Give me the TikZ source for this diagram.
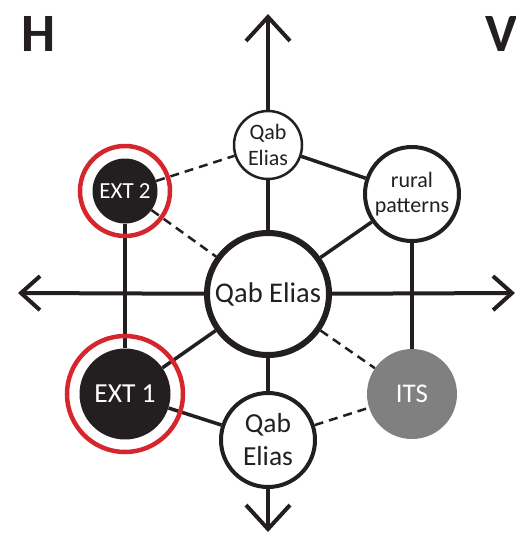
\documentclass[tikz,border=0pt]{standalone}
\usepackage{fontspec}
\setmainfont{Carlito}
\usetikzlibrary{arrows.meta,backgrounds}
\definecolor{ringred}{RGB}{212,38,44}
\definecolor{itsgray}{RGB}{128,128,128}
\definecolor{ink}{RGB}{35,31,32}
\begin{document}
\begin{tikzpicture}[x=1pt,y=-1pt,
  axisline/.style={line width=4pt, draw=ink},
  barbv/.style={-{Straight Barb[length=24pt,width=44pt]}},
  barbh/.style={-{Straight Barb[length=19pt,width=34pt]}},
  solidline/.style={line width=3.5pt, draw=ink},
  dashline/.style={line width=2.5pt, draw=ink, dash pattern=on 9pt off 6pt},
  whitenode/.style={circle, draw=ink, fill=white, inner sep=0pt, align=center, text=ink},
  blacknode/.style={circle, fill=ink, inner sep=0pt, text=white},
  ringnode/.style={circle, draw=ringred, inner sep=0pt, line width=4.5pt}
]
\useasboundingbox (0,0) rectangle (516,536);

% letters
\node[font=\bfseries\fontsize{54}{54}\selectfont, text=ink] (H) at (39,34) {H};
\node[font=\bfseries\fontsize{54}{54}\selectfont, text=ink] (V) at (501,34) {V};

% axis end points
\coordinate (up) at (268,14);
\coordinate (down) at (268,532);
\coordinate (left) at (18,293);
\coordinate (right) at (515,293);

% nodes
\node[whitenode, line width=6pt, minimum size=122pt, font=\fontsize{28.5}{32}\selectfont] (C) at (268,294) {Qab Elias};
\node[whitenode, line width=2.5pt, minimum size=68pt, font=\fontsize{22}{26.5}\selectfont] (TQ) at (268,145) {Qab\\Elias};
\node[whitenode, line width=4pt, minimum size=94pt, font=\fontsize{22}{25}\selectfont] (R) at (412,194) {rural\\patterns};
\node[whitenode, line width=4pt, minimum size=94pt, font=\fontsize{27.5}{33}\selectfont] (BQ) at (268,440) {Qab\\Elias};
\node[ringnode, minimum size=90pt] (ring2) at (125,191) {};
\node[ringnode, minimum size=116pt] (ring1) at (125,394) {};
\node[blacknode, minimum size=65pt, font=\fontsize{23}{26}\selectfont] (E2) at (125,191) {EXT 2};
\node[blacknode, minimum size=91pt, font=\fontsize{27.5}{30}\selectfont] (E1) at (125,394) {EXT 1};
\node[circle, fill=itsgray, inner sep=0pt, text=white, minimum size=90pt, font=\fontsize{27}{30}\selectfont] (ITS) at (412,394) {ITS};

\begin{scope}[on background layer]
  \draw[axisline, barbv] (C) -- (up);
  \draw[axisline, barbv] (C) -- (down);
  \draw[axisline, barbh] (C) -- (left);
  \draw[axisline, barbh] (C) -- (right);
  \draw[solidline] (E2) -- (E1);
  \draw[solidline] (R) -- (ITS);
  \draw[solidline] (TQ) -- (R);
  \draw[solidline] (C) -- (R);
  \draw[solidline] (C) -- (E1);
  \draw[solidline] (E1) -- (BQ);
  \draw[dashline] (E2) -- (TQ);
  \draw[dashline] (E2) -- (C);
  \draw[dashline] (C) -- (ITS);
  \draw[dashline] (BQ) -- (ITS);
\end{scope}
\end{tikzpicture}
\end{document}
